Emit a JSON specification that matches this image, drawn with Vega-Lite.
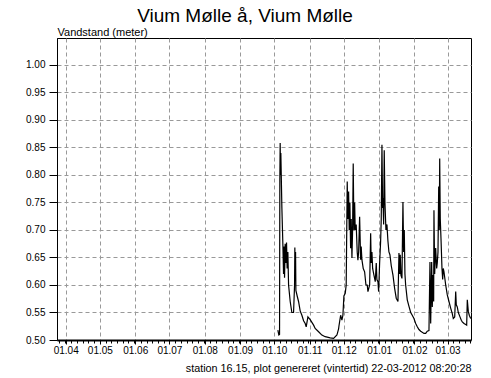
{
  "$schema": "https://vega.github.io/schema/vega-lite/v6.json",
  "width": 414,
  "height": 302,
  "autosize": "none",
  "padding": {"left": 57, "top": 38, "right": 20, "bottom": 38},
  "background": "white",
  "title": {"text": "Vium Mølle å, Vium Mølle", "fontSize": 19, "fontWeight": "normal", "font": "Liberation Sans", "color": "black", "anchor": "middle", "dx": -19, "offset": 0},
  "config": {
    "font": "Liberation Sans",
    "view": {"stroke": "black", "strokeWidth": 1}
  },
  "data": {"values": [
    {"t": "2011-10-04T03:00", "v": 0.518},
    {"t": "2011-10-05T00:00", "v": 0.509},
    {"t": "2011-10-05T15:00", "v": 0.510},
    {"t": "2011-10-05T21:00", "v": 0.79},
    {"t": "2011-10-06T04:00", "v": 0.858},
    {"t": "2011-10-06T12:00", "v": 0.80},
    {"t": "2011-10-06T18:00", "v": 0.84},
    {"t": "2011-10-07T16:00", "v": 0.74},
    {"t": "2011-10-08T13:00", "v": 0.673},
    {"t": "2011-10-09T03:00", "v": 0.62},
    {"t": "2011-10-09T16:00", "v": 0.67},
    {"t": "2011-10-10T00:00", "v": 0.613},
    {"t": "2011-10-10T13:00", "v": 0.675},
    {"t": "2011-10-11T04:00", "v": 0.64},
    {"t": "2011-10-11T18:00", "v": 0.677},
    {"t": "2011-10-12T07:00", "v": 0.63},
    {"t": "2011-10-12T22:00", "v": 0.66},
    {"t": "2011-10-13T13:00", "v": 0.60},
    {"t": "2011-10-14T23:00", "v": 0.57},
    {"t": "2011-10-16T10:00", "v": 0.55},
    {"t": "2011-10-17T22:00", "v": 0.55},
    {"t": "2011-10-18T19:00", "v": 0.60},
    {"t": "2011-10-19T01:00", "v": 0.668},
    {"t": "2011-10-19T08:00", "v": 0.61},
    {"t": "2011-10-19T16:00", "v": 0.66},
    {"t": "2011-10-19T23:00", "v": 0.59},
    {"t": "2011-10-21T02:00", "v": 0.58},
    {"t": "2011-10-22T07:00", "v": 0.57},
    {"t": "2011-10-23T17:00", "v": 0.553},
    {"t": "2011-10-25T05:00", "v": 0.545},
    {"t": "2011-10-26T17:00", "v": 0.535},
    {"t": "2011-10-28T03:00", "v": 0.53},
    {"t": "2011-10-29T00:00", "v": 0.524},
    {"t": "2011-10-30T12:00", "v": 0.542},
    {"t": "2011-11-01T12:00", "v": 0.537},
    {"t": "2011-11-03T00:00", "v": 0.532},
    {"t": "2011-11-04T12:00", "v": 0.527},
    {"t": "2011-11-05T21:00", "v": 0.521},
    {"t": "2011-11-08T21:00", "v": 0.515},
    {"t": "2011-11-11T18:00", "v": 0.509},
    {"t": "2011-11-14T16:00", "v": 0.506},
    {"t": "2011-11-19T01:00", "v": 0.504},
    {"t": "2011-11-22T01:00", "v": 0.503},
    {"t": "2011-11-24T23:00", "v": 0.509},
    {"t": "2011-11-26T10:00", "v": 0.52},
    {"t": "2011-11-26T17:00", "v": 0.525},
    {"t": "2011-11-28T05:00", "v": 0.545},
    {"t": "2011-11-29T08:00", "v": 0.536},
    {"t": "2011-11-30T05:00", "v": 0.545},
    {"t": "2011-12-01T02:00", "v": 0.58},
    {"t": "2011-12-02T06:00", "v": 0.585},
    {"t": "2011-12-03T02:00", "v": 0.60},
    {"t": "2011-12-04T00:00", "v": 0.788},
    {"t": "2011-12-04T14:00", "v": 0.72},
    {"t": "2011-12-05T05:00", "v": 0.77},
    {"t": "2011-12-05T18:00", "v": 0.70},
    {"t": "2011-12-06T08:00", "v": 0.75},
    {"t": "2011-12-06T23:00", "v": 0.667},
    {"t": "2011-12-07T12:00", "v": 0.72},
    {"t": "2011-12-08T03:00", "v": 0.649},
    {"t": "2011-12-08T17:00", "v": 0.70},
    {"t": "2011-12-09T06:00", "v": 0.821},
    {"t": "2011-12-09T21:00", "v": 0.70},
    {"t": "2011-12-10T12:00", "v": 0.75},
    {"t": "2011-12-11T00:00", "v": 0.70},
    {"t": "2011-12-11T21:00", "v": 0.71},
    {"t": "2011-12-12T18:00", "v": 0.66},
    {"t": "2011-12-13T09:00", "v": 0.645},
    {"t": "2011-12-14T00:00", "v": 0.66},
    {"t": "2011-12-14T21:00", "v": 0.724},
    {"t": "2011-12-15T18:00", "v": 0.646},
    {"t": "2011-12-16T06:00", "v": 0.67},
    {"t": "2011-12-16T21:00", "v": 0.646},
    {"t": "2011-12-18T01:00", "v": 0.63},
    {"t": "2011-12-19T06:00", "v": 0.624},
    {"t": "2011-12-20T10:00", "v": 0.60},
    {"t": "2011-12-21T13:00", "v": 0.60},
    {"t": "2011-12-22T04:00", "v": 0.588},
    {"t": "2011-12-23T16:00", "v": 0.60},
    {"t": "2011-12-24T13:00", "v": 0.694},
    {"t": "2011-12-25T01:00", "v": 0.64},
    {"t": "2011-12-25T16:00", "v": 0.66},
    {"t": "2011-12-26T07:00", "v": 0.63},
    {"t": "2011-12-27T10:00", "v": 0.618},
    {"t": "2011-12-28T14:00", "v": 0.606},
    {"t": "2011-12-29T11:00", "v": 0.64},
    {"t": "2011-12-30T01:00", "v": 0.61},
    {"t": "2011-12-30T23:00", "v": 0.606},
    {"t": "2011-12-31T13:00", "v": 0.588},
    {"t": "2012-01-01T10:00", "v": 0.64},
    {"t": "2012-01-02T07:00", "v": 0.679},
    {"t": "2012-01-02T20:00", "v": 0.72},
    {"t": "2012-01-03T11:00", "v": 0.855},
    {"t": "2012-01-04T01:00", "v": 0.74},
    {"t": "2012-01-04T08:00", "v": 0.758},
    {"t": "2012-01-04T23:00", "v": 0.71},
    {"t": "2012-01-05T11:00", "v": 0.845},
    {"t": "2012-01-06T02:00", "v": 0.75},
    {"t": "2012-01-06T23:00", "v": 0.70},
    {"t": "2012-01-07T20:00", "v": 0.71},
    {"t": "2012-01-08T17:00", "v": 0.68},
    {"t": "2012-01-09T14:00", "v": 0.66},
    {"t": "2012-01-10T11:00", "v": 0.655},
    {"t": "2012-01-11T15:00", "v": 0.635},
    {"t": "2012-01-13T03:00", "v": 0.618},
    {"t": "2012-01-14T14:00", "v": 0.594},
    {"t": "2012-01-16T00:00", "v": 0.576},
    {"t": "2012-01-17T12:00", "v": 0.57},
    {"t": "2012-01-18T09:00", "v": 0.658},
    {"t": "2012-01-19T00:00", "v": 0.62},
    {"t": "2012-01-19T12:00", "v": 0.655},
    {"t": "2012-01-20T03:00", "v": 0.618},
    {"t": "2012-01-21T00:00", "v": 0.612},
    {"t": "2012-01-21T21:00", "v": 0.751},
    {"t": "2012-01-22T12:00", "v": 0.66},
    {"t": "2012-01-23T01:00", "v": 0.70},
    {"t": "2012-01-23T15:00", "v": 0.62},
    {"t": "2012-01-24T06:00", "v": 0.60},
    {"t": "2012-01-25T16:00", "v": 0.573},
    {"t": "2012-01-27T04:00", "v": 0.561},
    {"t": "2012-01-28T16:00", "v": 0.55},
    {"t": "2012-01-30T01:00", "v": 0.545},
    {"t": "2012-01-31T13:00", "v": 0.539},
    {"t": "2012-02-02T01:00", "v": 0.53},
    {"t": "2012-02-03T11:00", "v": 0.524},
    {"t": "2012-02-04T22:00", "v": 0.519},
    {"t": "2012-02-06T10:00", "v": 0.516},
    {"t": "2012-02-07T20:00", "v": 0.514},
    {"t": "2012-02-09T08:00", "v": 0.512},
    {"t": "2012-02-10T20:00", "v": 0.512},
    {"t": "2012-02-12T05:00", "v": 0.516},
    {"t": "2012-02-13T17:00", "v": 0.517},
    {"t": "2012-02-14T14:00", "v": 0.642},
    {"t": "2012-02-15T05:00", "v": 0.53},
    {"t": "2012-02-16T02:00", "v": 0.642},
    {"t": "2012-02-16T15:00", "v": 0.56},
    {"t": "2012-02-17T06:00", "v": 0.618},
    {"t": "2012-02-17T20:00", "v": 0.57},
    {"t": "2012-02-18T02:00", "v": 0.736},
    {"t": "2012-02-18T17:00", "v": 0.62},
    {"t": "2012-02-19T14:00", "v": 0.667},
    {"t": "2012-02-20T11:00", "v": 0.63},
    {"t": "2012-02-21T00:00", "v": 0.64},
    {"t": "2012-02-21T15:00", "v": 0.66},
    {"t": "2012-02-22T06:00", "v": 0.779},
    {"t": "2012-02-22T18:00", "v": 0.70},
    {"t": "2012-02-23T03:00", "v": 0.83},
    {"t": "2012-02-23T15:00", "v": 0.72},
    {"t": "2012-02-24T06:00", "v": 0.685},
    {"t": "2012-02-25T03:00", "v": 0.63},
    {"t": "2012-02-25T18:00", "v": 0.61},
    {"t": "2012-02-26T06:00", "v": 0.63},
    {"t": "2012-02-26T21:00", "v": 0.624},
    {"t": "2012-02-27T18:00", "v": 0.61},
    {"t": "2012-02-28T09:00", "v": 0.60},
    {"t": "2012-02-29T19:00", "v": 0.582},
    {"t": "2012-03-02T06:00", "v": 0.57},
    {"t": "2012-03-03T18:00", "v": 0.558},
    {"t": "2012-03-05T04:00", "v": 0.548},
    {"t": "2012-03-06T01:00", "v": 0.539},
    {"t": "2012-03-07T07:00", "v": 0.542},
    {"t": "2012-03-08T04:00", "v": 0.588},
    {"t": "2012-03-08T16:00", "v": 0.564},
    {"t": "2012-03-09T13:00", "v": 0.56},
    {"t": "2012-03-10T11:00", "v": 0.55},
    {"t": "2012-03-11T22:00", "v": 0.542},
    {"t": "2012-03-13T02:00", "v": 0.536},
    {"t": "2012-03-13T23:00", "v": 0.533},
    {"t": "2012-03-15T11:00", "v": 0.53},
    {"t": "2012-03-16T23:00", "v": 0.528},
    {"t": "2012-03-17T19:00", "v": 0.527},
    {"t": "2012-03-18T08:00", "v": 0.573},
    {"t": "2012-03-19T05:00", "v": 0.552},
    {"t": "2012-03-20T02:00", "v": 0.545},
    {"t": "2012-03-21T08:00", "v": 0.539}
  ]},
  "mark": {"type": "line", "color": "black", "strokeWidth": 1.2, "interpolate": "linear", "clip": true},
  "encoding": {
    "x": {
      "field": "t", "type": "temporal",
      "scale": {"domain": ["2011-03-24T09:00", "2012-03-21T14:00"]},
      "axis": {
        "title": "station 16.15, plot genereret (vintertid) 22-03-2012 08:20:28",
        "titleAnchor": "end", "titleAlign": "right", "titleFontWeight": "normal", "titleFontSize": 10.8, "titlePadding": 7, "titleColor": "black",
        "tickCount": {"interval": "day", "step": 5},
        "labelExpr": "date(datum.value) == 1 ? timeFormat(datum.value, '%d.%m') : ''",
        "labelOverlap": false, "labelBound": false, "labelFlush": false,
        "labelFontSize": 10, "labelColor": "black", "labelPadding": 1,
        "tickSize": {"condition": {"test": "date(datum.value) == 1", "value": 4}, "value": 3},
        "tickColor": "black", "tickWidth": 1,
        "domainColor": "black", "domainWidth": 2,
        "grid": true,
        "gridOpacity": {"condition": {"test": "date(datum.value) == 1", "value": 1}, "value": 0},
        "gridDash": [4, 3], "gridColor": "#999999", "gridWidth": 1
      }
    },
    "y": {
      "field": "v", "type": "quantitative",
      "scale": {"domain": [0.5, 1.049], "nice": false, "zero": false},
      "axis": {
        "title": "Vandstand (meter)", "titleAngle": 0, "titleAlign": "left", "titleBaseline": "alphabetic",
        "titleX": 0, "titleY": -3, "titleFontWeight": "normal", "titleFontSize": 11, "titleColor": "black",
        "values": [0.5, 0.55, 0.6, 0.65, 0.7, 0.75, 0.8, 0.85, 0.9, 0.95, 1.0],
        "format": ".2f", "labelFontSize": 10, "labelColor": "black",
        "tickSize": 8, "labelPadding": 4, "tickColor": "black",
        "domainColor": "black",
        "grid": true, "gridDash": [4, 3], "gridColor": "#999999", "gridWidth": 1
      }
    }
  }
}
